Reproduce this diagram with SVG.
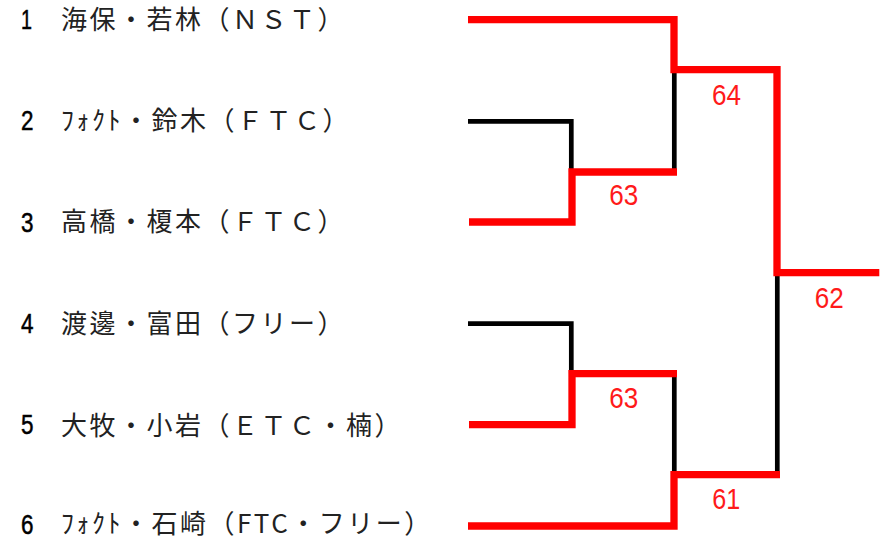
<svg xmlns="http://www.w3.org/2000/svg" width="886" height="539" viewBox="0 0 886 539">
<style>
.num{font-family:"Liberation Sans",Arial,sans-serif;font-size:27px;fill:#000;stroke:#000;stroke-width:0.5}
.name{font-family:"Noto Sans CJK JP","Noto Sans",sans-serif;font-size:26px;letter-spacing:2.5px;fill:#222;dominant-baseline:central}
.score{font-family:"Liberation Sans",Arial,sans-serif;font-size:30px;fill:#ff1a1a;text-anchor:middle}
.lose{fill:none;stroke:#000;stroke-width:4.7;stroke-linejoin:miter;stroke-linecap:butt}
.win{fill:none;stroke:#ff0000;stroke-width:7.3;stroke-linejoin:miter;stroke-linecap:butt}
</style>
<rect width="886" height="539" fill="#fff"/>
<g id="entry1"><text class="num" x="21" y="29.3" textLength="11" lengthAdjust="spacingAndGlyphs">1</text><text class="name" x="61" y="17.5">海保・若林（ＮＳＴ）</text></g>
<g id="entry2"><text class="num" x="21" y="130" textLength="12.5" lengthAdjust="spacingAndGlyphs">2</text><text class="name" x="61" y="118.5">ﾌｫｸﾄ・鈴木（ＦＴＣ）</text></g>
<g id="entry3"><text class="num" x="21" y="231.7" textLength="12.5" lengthAdjust="spacingAndGlyphs">3</text><text class="name" x="61" y="219.5">高橋・榎本（ＦＴＣ）</text></g>
<g id="entry4"><text class="num" x="21" y="332.7" textLength="12.5" lengthAdjust="spacingAndGlyphs">4</text><text class="name" x="61" y="321.5">渡邊・富田（フリー）</text></g>
<g id="entry5"><text class="num" x="21" y="434" textLength="12.5" lengthAdjust="spacingAndGlyphs">5</text><text class="name" x="61" y="423.5">大牧・小岩（ＥＴＣ・楠）</text></g>
<g id="entry6"><text class="num" x="21" y="534" textLength="12.5" lengthAdjust="spacingAndGlyphs">6</text><text class="name" x="61" y="521.5">ﾌｫｸﾄ・石崎（FTC・フリー）</text></g>
<g id="connectors">
<path class="lose" d="M468,121.3 H571.3 V172"/>
<path class="lose" d="M674.3,69.7 V172"/>
<path class="lose" d="M468,323.7 H571.3 V373.7"/>
<path class="lose" d="M674.3,373.7 V474.7"/>
<path class="lose" d="M777.3,272.7 V474.7"/>
<path class="win" d="M468,19.7 H674 V69.7 H777 V272.7 H879.3"/>
<path class="win" d="M469,222 H572 V172 H677"/>
<path class="win" d="M469,424.7 H572 V373.7 H677"/>
<path class="win" d="M468,526 H674 V474.7 H780"/>
</g>
<g id="scores">
<text class="score" x="726.5" y="105" textLength="29" lengthAdjust="spacingAndGlyphs">64</text>
<text class="score" x="623.8" y="205" textLength="29" lengthAdjust="spacingAndGlyphs">63</text>
<text class="score" x="829.2" y="307.7" textLength="29" lengthAdjust="spacingAndGlyphs">62</text>
<text class="score" x="623.8" y="408.3" textLength="29" lengthAdjust="spacingAndGlyphs">63</text>
<text class="score" x="726.2" y="509.3" textLength="28" lengthAdjust="spacingAndGlyphs">61</text>
</g>
</svg>
